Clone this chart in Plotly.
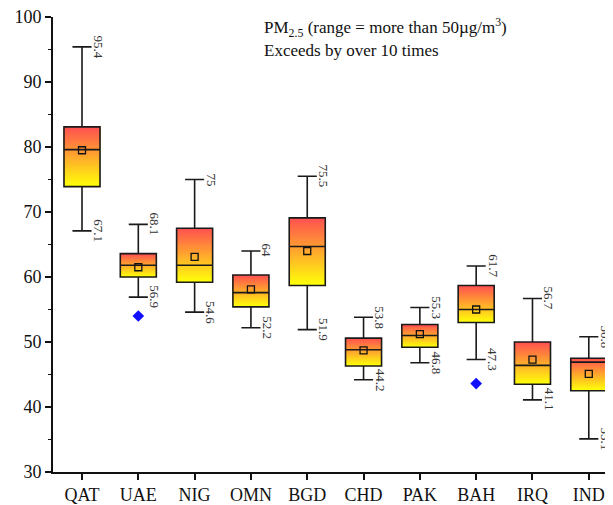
import plotly.graph_objects as go

categories = ["QAT", "UAE", "NIG", "OMN", "BGD", "CHD", "PAK", "BAH", "IRQ", "IND"]
whisker_low = [67.1, 56.9, 54.6, 52.2, 51.9, 44.2, 46.8, 47.3, 41.1, 35.1]
whisker_high = [95.4, 68.1, 75.0, 64.0, 75.5, 53.8, 55.3, 61.7, 56.7, 50.8]
q1 = [73.9, 60.0, 59.2, 55.4, 58.7, 46.3, 49.2, 53.0, 43.5, 42.5]
median = [79.6, 61.8, 61.8, 57.6, 64.7, 48.8, 51.0, 55.0, 46.4, 46.9]
q3 = [83.1, 63.6, 67.5, 60.3, 69.1, 50.6, 52.7, 58.7, 50.0, 47.5]
mean = [79.5, 61.5, 63.1, 58.1, 64.0, 48.7, 51.2, 55.0, 47.3, 45.1]
outlier_cats = ["UAE", "BAH"]
outlier_vals = [54.0, 43.6]
label_low = ["67.1", "56.9", "54.6", "52.2", "51.9", "44.2", "46.8", "47.3", "41.1", "35.1"]
label_high = ["95.4", "68.1", "75", "64", "75.5", "53.8", "55.3", "61.7", "56.7", "50.8"]

BOX_W = 0.64
N = 40
top_rgb = (255, 82, 80)
bot_rgb = (255, 255, 10)

fig = go.Figure()

# gradient fill: yellow at bottom (q1) -> red at top (q3), per box
for i in range(N):
    t = i / (N - 1)
    r = round(bot_rgb[0] + (top_rgb[0] - bot_rgb[0]) * t)
    g = round(bot_rgb[1] + (top_rgb[1] - bot_rgb[1]) * t)
    b = round(bot_rgb[2] + (top_rgb[2] - bot_rgb[2]) * t)
    bases = [a + (c - a) * i / N for a, c in zip(q1, q3)]
    heights = [c - bb for c, bb in zip(q3, bases)]
    fig.add_trace(go.Bar(
        x=categories, y=heights, base=bases, width=BOX_W,
        marker=dict(color=f"rgb({r},{g},{b})", line=dict(width=0)),
        showlegend=False, hoverinfo="skip",
    ))

fig.add_trace(go.Box(
    x=categories, q1=q1, median=median, q3=q3,
    lowerfence=whisker_low, upperfence=whisker_high,
    width=BOX_W, whiskerwidth=0.53,
    fillcolor="rgba(0,0,0,0)",
    line=dict(color="#1a1a1a", width=1.6),
    boxpoints=False, showlegend=False,
))

fig.add_trace(go.Scatter(
    x=categories, y=mean, mode="markers",
    marker=dict(symbol="square-open", size=7, color="#111", line=dict(width=1.3)),
    showlegend=False,
))

fig.add_trace(go.Scatter(
    x=outlier_cats, y=outlier_vals, mode="markers",
    marker=dict(symbol="diamond", size=9, color="#1010ff"),
    showlegend=False,
))

annotations = []
for c, v, t in zip(categories, whisker_high, label_high):
    annotations.append(dict(x=c, y=v, text=t, showarrow=False, textangle=90,
                            xanchor="center", yanchor="middle", xshift=16.5,
                            font=dict(family="Liberation Serif", size=13, color="#333")))
for c, v, t in zip(categories, whisker_low, label_low):
    annotations.append(dict(x=c, y=v, text=t, showarrow=False, textangle=90,
                            xanchor="center", yanchor="middle", xshift=16.5,
                            font=dict(family="Liberation Serif", size=13, color="#333")))
annotations.append(dict(xref="paper", yref="paper", x=0.373, y=0.978,
                        text="PM<sub>2.5</sub> (range = more than 50µg/m<sup>3</sup>)",
                        showarrow=False, xanchor="left", yanchor="middle",
                        font=dict(family="Liberation Serif", size=17, color="#111")))
annotations.append(dict(xref="paper", yref="paper", x=0.373, y=0.927,
                        text="Exceeds by over 10 times",
                        showarrow=False, xanchor="left", yanchor="middle",
                        font=dict(family="Liberation Serif", size=17, color="#111")))

# page body has an 8px margin, so the figure is sized to fit the window from (8,8)
fig.update_layout(
    width=605, height=497,
    margin=dict(l=45, r=0, t=9, b=33),
    plot_bgcolor="white", paper_bgcolor="white",
    barmode="overlay", boxmode="overlay",
    annotations=annotations,
    font=dict(family="Liberation Serif", size=18, color="#111"),
    xaxis=dict(type="category", range=[-0.515, 9.43], showgrid=False, zeroline=False,
               showline=True, linecolor="#111", linewidth=1.6,
               ticks="outside", ticklen=6, tickwidth=1.6, tickcolor="#111",
               ticklabeloverflow="allow"),
    yaxis=dict(range=[30, 100], dtick=10, showgrid=False, zeroline=False,
               showline=True, linecolor="#111", linewidth=1.6,
               ticks="outside", ticklen=6, tickwidth=1.6, tickcolor="#111",
               ticklabeloverflow="allow",
               minor=dict(dtick=5, ticks="outside", ticklen=3, tickwidth=1.4, tickcolor="#111")),
)

fig.write_html("out.html")
